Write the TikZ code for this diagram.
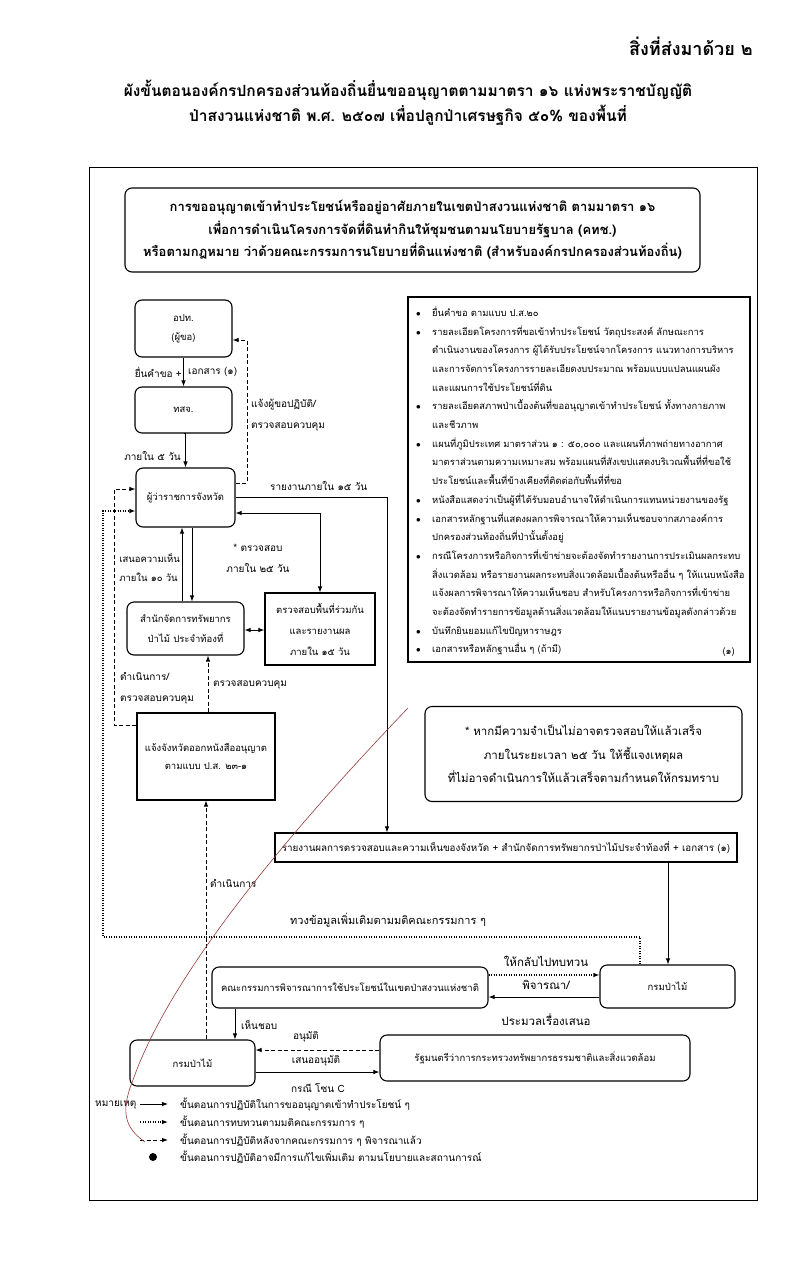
\documentclass[tikz,border=0pt]{standalone}
\usepackage{fontspec}
\setmainfont[Script=Thai]{Loma}
\usetikzlibrary{arrows.meta}
\newcommand{\fT}{\fontsize{15.5}{25}\selectfont\bfseries}
\newcommand{\fHd}{\fontsize{18}{22}\selectfont\bfseries}
\newcommand{\fH}{\fontsize{13}{22.5}\selectfont\bfseries}
\newcommand{\fB}{\fontsize{9.5}{19}\selectfont}
\newcommand{\fLb}{\fontsize{10}{21}\selectfont}
\newcommand{\fLg}{\fontsize{11.5}{21}\selectfont}
\newcommand{\fLi}{\fontsize{9.4}{18.7}\selectfont}
\newcommand{\bl}{\makebox[18pt][l]{\hspace{2pt}$\bullet$}}
\newcommand{\ind}{\hspace*{18pt}}
\begin{document}
\begin{tikzpicture}[x=1pt,y=-1pt,
  rbox/.style={draw, line width=1.1pt, rounded corners=7pt, inner sep=0pt, align=center, font=\fB},
  sbox/.style={draw, line width=1.1pt, inner sep=0pt, align=center, font=\fB},
  con/.style={line width=0.9pt, -{Latex[length=6pt,width=4.5pt]}},
  dcon/.style={line width=0.9pt, {Latex[length=6pt,width=4.5pt]}-{Latex[length=6pt,width=4.5pt]}},
  dsh/.style={con, dash pattern=on 4pt off 2.5pt},
  dott/.style={con, dash pattern=on 1.3pt off 1.2pt, line width=1.1pt},
  lbl/.style={inner sep=0pt, font=\fLb, align=left}]
\useasboundingbox (0,0) rectangle (808,1280);
\fill[white] (0,0) rectangle (808,1280);

% header and title
\node[inner sep=0pt, font=\fHd] (hdr) at (691,46) {สิ่งที่ส่งมาด้วย ๒};
\node[inner sep=0pt, font=\fT, align=center] (title) at (408,103)
  {ผังขั้นตอนองค์กรปกครองส่วนท้องถิ่นยื่นขออนุญาตตามมาตรา ๑๖ แห่งพระราชบัญญัติ\\
   ป่าสงวนแห่งชาติ พ.ศ. ๒๕๐๗ เพื่อปลูกป่าเศรษฐกิจ ๕๐\% ของพื้นที่};

% outer frame
\draw[line width=1pt] (89,167) rectangle (757,1200);

% top box
\node[rbox, font=\fH, minimum width=575pt, minimum height=84pt] (T) at (412.5,230)
  {การขออนุญาตเข้าทำประโยชน์หรืออยู่อาศัยภายในเขตป่าสงวนแห่งชาติ ตามมาตรา ๑๖\\
   เพื่อการดำเนินโครงการจัดที่ดินทำกินให้ชุมชนตามนโยบายรัฐบาล (คทช.)\\
   หรือตามกฎหมาย ว่าด้วยคณะกรรมการนโยบายที่ดินแห่งชาติ (สำหรับองค์กรปกครองส่วนท้องถิ่น)};

% left column
\node[rbox, minimum width=97pt, minimum height=57pt] (A) at (183.5,328.5) {อปท.\\(ผู้ขอ)};
\node[rbox, minimum width=97pt, minimum height=46pt] (B) at (183.5,410) {ทสจ.};
\node[rbox, minimum width=99pt, minimum height=59pt] (C) at (185.5,497.5) {ผู้ว่าราชการจังหวัด};
\node[rbox, minimum width=117pt, minimum height=53pt, font=\fontsize{9.5}{20}\selectfont] (D) at (185.5,628.5) {สำนักจัดการทรัพยากร\\ป่าไม้ ประจำท้องที่};
\node[sbox, minimum width=110pt, minimum height=72pt, font=\fontsize{9.5}{21}\selectfont] (E) at (320,629) {ตรวจสอบพื้นที่ร่วมกัน\\และรายงานผล\\ภายใน ๑๕ วัน};
\node[sbox, minimum width=138pt, minimum height=87pt, font=\fontsize{9.5}{18}\selectfont] (F) at (206,756.5) {แจ้งจังหวัดออกหนังสืออนุญาต\\ตามแบบ ป.ส. ๒๓-๑};

% list box
\node[sbox, minimum width=342pt, minimum height=365pt] (L) at (579,479.5) {};
\node[inner sep=0pt, anchor=north west, align=left, font=\fLi] (Ltx) at (414,306.5)
{\bl ยื่นคำขอ ตามแบบ ป.ส.๒๐\\
\bl รายละเอียดโครงการที่ขอเข้าทำประโยชน์ วัตถุประสงค์ ลักษณะการ\\
\ind ดำเนินงานของโครงการ ผู้ได้รับประโยชน์จากโครงการ แนวทางการบริหาร\\
\ind และการจัดการโครงการรายละเอียดงบประมาณ พร้อมแบบแปลนแผนผัง\\
\ind และแผนการใช้ประโยชน์ที่ดิน\\
\bl รายละเอียดสภาพป่าเบื้องต้นที่ขออนุญาตเข้าทำประโยชน์ ทั้งทางกายภาพ\\
\ind และชีวภาพ\\
\bl แผนที่ภูมิประเทศ มาตราส่วน ๑ : ๕๐,๐๐๐ และแผนที่ภาพถ่ายทางอากาศ\\
\ind มาตราส่วนตามความเหมาะสม พร้อมแผนที่สังเขปแสดงบริเวณพื้นที่ที่ขอใช้\\
\ind ประโยชน์และพื้นที่ข้างเคียงที่ติดต่อกับพื้นที่ที่ขอ\\
\bl หนังสือแสดงว่าเป็นผู้ที่ได้รับมอบอำนาจให้ดำเนินการแทนหน่วยงานของรัฐ\\
\bl เอกสารหลักฐานที่แสดงผลการพิจารณาให้ความเห็นชอบจากสภาองค์การ\\
\ind ปกครองส่วนท้องถิ่นที่ป่านั้นตั้งอยู่\\
\bl กรณีโครงการหรือกิจการที่เข้าข่ายจะต้องจัดทำรายงานการประเมินผลกระทบ\\
\ind สิ่งแวดล้อม หรือรายงานผลกระทบสิ่งแวดล้อมเบื้องต้นหรืออื่น ๆ ให้แนบหนังสือ\\
\ind แจ้งผลการพิจารณาให้ความเห็นชอบ สำหรับโครงการหรือกิจการที่เข้าข่าย\\
\ind จะต้องจัดทำรายการข้อมูลด้านสิ่งแวดล้อมให้แนบรายงานข้อมูลดังกล่าวด้วย\\
\bl บันทึกยินยอมแก้ไขปัญหาราษฎร\\
\bl เอกสารหรือหลักฐานอื่น ๆ (ถ้ามี)};
\node[inner sep=0pt, anchor=east, font=\fLi] (Lref) at (735,652) {(๑)};

% note box
\node[rbox, minimum width=317pt, minimum height=95pt, font=\fontsize{11.5}{23.5}\selectfont] (N) at (583.5,754) {* หากมีความจำเป็นไม่อาจตรวจสอบให้แล้วเสร็จ\\ภายในระยะเวลา ๒๕ วัน ให้ชี้แจงเหตุผล\\ที่ไม่อาจดำเนินการให้แล้วเสร็จตามกำหนดให้กรมทราบ};

% report box
\node[sbox, minimum width=462pt, minimum height=29pt, font=\fontsize{9.8}{19}\selectfont] (R) at (506,847.5) {รายงานผลการตรวจสอบและความเห็นของจังหวัด + สำนักจัดการทรัพยากรป่าไม้ประจำท้องที่ + เอกสาร (๑)};

% lower boxes
\node[rbox, minimum width=135pt, minimum height=43pt] (G) at (667.5,986.5) {กรมป่าไม้};
\node[rbox, minimum width=276pt, minimum height=41pt] (K) at (350,987.5) {คณะกรรมการพิจารณาการใช้ประโยชน์ในเขตป่าสงวนแห่งชาติ};
\node[rbox, minimum width=125pt, minimum height=46pt] (H) at (192.5,1063) {กรมป่าไม้};
\node[rbox, minimum width=310pt, minimum height=46pt] (M) at (535,1058) {รัฐมนตรีว่าการกระทรวงทรัพยากรธรรมชาติและสิ่งแวดล้อม};

% connectors
\draw[con] (A.south) -- (B.north);
\node[lbl, anchor=east] (l1) at (182,372) {ยื่นคำขอ +};
\node[lbl, anchor=west] (l2) at (188,372) {เอกสาร (๑)};
\draw[con] (B.south) -- (C.north |- B.south) -- (C.north);
\node[lbl, anchor=east] (l3) at (181,456) {ภายใน ๕ วัน};
\draw[dsh] (C.east |- 0,483) -- (247,483) -- (247,340) -- (A.east |- 0,340);
\node[lbl, anchor=west] (l4) at (251,415) {แจ้งผู้ขอปฏิบัติ/\\ตรวจสอบควบคุม};
\draw[con] (C.east) -- (387,497.5) -- (R.north -| 387,0);
\node[lbl, anchor=west] (l5) at (270,486) {รายงานภายใน ๑๕ วัน};
\draw[dcon] (C.east |- 0,513) -| (E.north);
\node[lbl, anchor=center, align=center] (l6) at (258,558) {* ตรวจสอบ\\ภายใน ๒๕ วัน};
\draw[con] (D.north -| 182,0) -- (C.south -| 182,0);
\draw[con] (C.south -| 192,0) -- (D.north -| 192,0);
\node[lbl, anchor=east, align=left, font=\fontsize{9.5}{19}\selectfont] (l7) at (180,568) {เสนอความเห็น\\ภายใน ๑๐ วัน};
\draw[dcon] (D.east |- 0,630) -- (E.west |- 0,630);
\draw[dsh] (F.north -| 208,0) -- (D.south -| 208,0);
\node[lbl, anchor=west] (l8) at (213,685) {ตรวจสอบควบคุม};
\draw[dsh] (F.west |- 0,725) -- (114,725) -- (114,489) -- (C.west |- 0,489);
\node[lbl, anchor=west] (l9) at (120,688) {ดำเนินการ/\\ตรวจสอบควบคุม};
\draw[dott] (G.north -| 640,0) -- (640,937) -- (103,937) -- (103,511) -- (C.west |- 0,511);
\node[lbl, anchor=west, font=\fontsize{11}{21}\selectfont] (l10) at (290,920) {ทวงข้อมูลเพิ่มเติมตามมติคณะกรรมการ ๆ};
\draw[con] (R.south -| 668,0) -- (G.north -| 668,0);
\draw[dott] (K.east |- 0,975) -- (G.west |- 0,975);
\node[lbl, font=\fLg] (l11) at (546,961) {ให้กลับไปทบทวน};
\draw[con] (G.west |- 0,997) -- (K.east |- 0,997);
\node[lbl, font=\fLg] (l12) at (546,985) {พิจารณา/};
\node[lbl, font=\fLg] (l13) at (546,1020) {ประมวลเรื่องเสนอ};
\draw[con] (K.south -| 235,0) -- (H.north -| 235,0);
\node[lbl, anchor=west] (l14) at (241,1025) {เห็นชอบ};
\draw[dsh] (M.west |- 0,1050) -- (H.east |- 0,1050);
\node[lbl] (l15) at (306,1037) {อนุมัติ};
\draw[con] (H.east |- 0,1072) -- (M.west |- 0,1072);
\node[lbl] (l16) at (316,1061) {เสนออนุมัติ};
\node[lbl] (l17) at (318,1088) {กรณี โซน C};
\draw[dsh] (H.north -| 206,0) -- (F.south -| 206,0);
\node[lbl, anchor=west] (l18) at (210,883) {ดำเนินการ};

% legend
\node[lbl, anchor=west] (lgT) at (95,1105) {หมายเหตุ};
\coordinate (la1) at (140,1104); \coordinate (lb1) at (168,1104);
\coordinate (la2) at (140,1122); \coordinate (lb2) at (168,1122);
\coordinate (la3) at (140,1140); \coordinate (lb3) at (168,1140);
\draw[con] (la1) -- (lb1);
\draw[dott] (la2) -- (lb2);
\draw[dsh] (la3) -- (lb3);
\node[circle, fill, inner sep=0pt, minimum size=8pt] (ld4) at (153,1157) {};
\node[lbl, anchor=west] (lg1) at (180,1104) {ขั้นตอนการปฏิบัติในการขออนุญาตเข้าทำประโยชน์ ๆ};
\node[lbl, anchor=west] (lg2) at (180,1122) {ขั้นตอนการทบทวนตามมติคณะกรรมการ ๆ};
\node[lbl, anchor=west] (lg3) at (180,1140) {ขั้นตอนการปฏิบัติหลังจากคณะกรรมการ ๆ พิจารณาแล้ว};
\node[lbl, anchor=west] (lg4) at (180,1157) {ขั้นตอนการปฏิบัติอาจมีการแก้ไขเพิ่มเติม ตามนโยบายและสถานการณ์};

% pen mark on the scan
\draw[line width=0.6pt, draw={rgb,255:red,150;green,60;blue,60}] (408,708) .. controls (320,800) and (175,960) .. (133,1080) .. controls (120,1112) and (125,1128) .. (145,1142);
\end{tikzpicture}
\end{document}
